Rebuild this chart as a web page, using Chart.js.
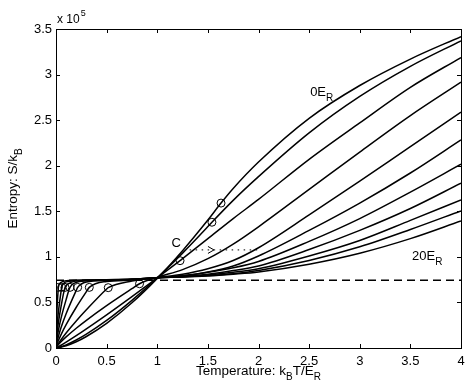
<!DOCTYPE html>
<html>
<head>
<meta charset="utf-8">
<title>Entropy vs temperature</title>
<script src="https://cdn.jsdelivr.net/npm/chart.js@4.4.1/dist/chart.umd.min.js"></script>
<style>
  html, body { margin: 0; padding: 0; background: #fff; }
  #wrap { width: 471px; height: 392px; }
</style>
</head>
<body>
<div id="wrap"><canvas id="entropyChart" width="471" height="392"></canvas></div>
<script>
// Temperature grid (k_B T / E_R) shared by all curves
const temps = [0, 0.01, 0.02, 0.05, 0.1, 0.2, 0.3, 0.5, 0.75, 1.0, 1.25, 1.5, 1.75, 2.0, 2.5, 3.0, 3.5, 4.0];

// Entropy S/k_B (x 10^5) for each lattice depth
const sE0  = [0, 0.001, 0.002, 0.009, 0.024, 0.068, 0.126, 0.27, 0.496, 0.764, 1.068, 1.404, 1.75, 2.04, 2.52, 2.88, 3.17, 3.417];
const sE2  = [0, 0.002, 0.004, 0.014, 0.034, 0.088, 0.152, 0.302, 0.523, 0.77, 1.041, 1.332, 1.62, 1.88, 2.36, 2.76, 3.09, 3.37];
const sE4  = [0, 0.005, 0.011, 0.030, 0.064, 0.135, 0.21, 0.364, 0.564, 0.77, 0.98, 1.2, 1.42, 1.63, 2.07, 2.47, 2.86, 3.187];
const sE6  = [0, 0.018, 0.032, 0.069, 0.122, 0.217, 0.304, 0.465, 0.651, 0.775, 0.86, 0.98, 1.14, 1.33, 1.74, 2.15, 2.55, 2.917];
const sE8  = [0, 0.023, 0.042, 0.091, 0.165, 0.297, 0.419, 0.647, 0.735, 0.772, 0.81, 0.87, 0.96, 1.10, 1.46, 1.83, 2.21, 2.587];
const sE10 = [0, 0.041, 0.071, 0.147, 0.256, 0.447, 0.618, 0.73, 0.745, 0.772, 0.795, 0.835, 0.90, 1.01, 1.29, 1.59, 1.92, 2.283];
const sE12 = [0, 0.067, 0.112, 0.224, 0.376, 0.632, 0.725, 0.742, 0.75, 0.772, 0.79, 0.83, 0.88, 0.95, 1.17, 1.42, 1.71, 2.016];
const sE14 = [0, 0.106, 0.172, 0.327, 0.531, 0.72, 0.738, 0.745, 0.752, 0.772, 0.785, 0.81, 0.85, 0.90, 1.08, 1.29, 1.53, 1.808];
const sE16 = [0, 0.161, 0.252, 0.457, 0.685, 0.735, 0.742, 0.746, 0.754, 0.772, 0.782, 0.80, 0.83, 0.87, 1.01, 1.18, 1.40, 1.625];
const sE18 = [0, 0.237, 0.358, 0.621, 0.725, 0.74, 0.744, 0.748, 0.755, 0.772, 0.78, 0.795, 0.815, 0.85, 0.96, 1.11, 1.30, 1.504];
const sE20 = [0, 0.42, 0.616, 0.72, 0.738, 0.743, 0.745, 0.748, 0.756, 0.772, 0.778, 0.79, 0.81, 0.835, 0.92, 1.04, 1.20, 1.394];

const depths = [0, 2, 4, 6, 8, 10, 12, 14, 16, 18, 20];
const curves = [sE0, sE2, sE4, sE6, sE8, sE10, sE12, sE14, sE16, sE18, sE20];

// Critical points (circles), one per depth
const tcTemps   = [1.63, 1.54, 1.225, 0.825, 0.516, 0.329, 0.214, 0.138, 0.089, 0.056, 0.023];
const tcEntropy = [1.59, 1.38, 0.958, 0.705, 0.662, 0.665, 0.665, 0.665, 0.665, 0.665, 0.665];

// Dashed plateau and dotted arrow
const plateauT = [0, 4];
const plateauS = [0.743, 0.743];
const arrowT = [1.32, 2.03];
const arrowS = [1.076, 1.076];
const arrowTipT = 1.56;

// Axis ticks
const xTicks = [0, 0.5, 1, 1.5, 2, 2.5, 3, 3.5, 4];
const yTicks = [0, 0.5, 1, 1.5, 2, 2.5, 3, 3.5];

const FONT = '"Liberation Sans", Arial, Helvetica, sans-serif';

// Build curve datasets: grid points plus the critical point, sorted by T
const curveSets = curves.map((s, i) => {
    const pts = temps.map((t, j) => ({ x: t, y: s[j] }));
    if (!temps.includes(tcTemps[i])) pts.push({ x: tcTemps[i], y: tcEntropy[i] });
    pts.sort((a, b) => a.x - b.x);
    return {
        label: depths[i] + 'E_R',
        data: pts,
        borderColor: '#000',
        borderWidth: 1.5,
        pointRadius: 0,
        fill: false,
        cubicInterpolationMode: 'monotone'
    };
});

const plateauSet = {
    label: 'plateau',
    data: plateauT.map((t, i) => ({ x: t, y: plateauS[i] })),
    borderColor: '#000',
    borderWidth: 1.5,
    borderDash: [8, 5],
    pointRadius: 0
};

const arrowSet = {
    label: 'arrow',
    data: arrowT.map((t, i) => ({ x: t, y: arrowS[i] })),
    borderColor: '#333',
    borderWidth: 1.2,
    borderDash: [1.5, 4.5],
    pointRadius: 0
};

const circleSet = {
    type: 'scatter',
    label: 'Tc',
    data: tcTemps.map((t, i) => ({ x: t, y: tcEntropy[i] })),
    showLine: false,
    pointStyle: 'circle',
    pointRadius: 4,
    pointBorderWidth: 1,
    pointBorderColor: '#000',
    pointBackgroundColor: 'rgba(0,0,0,0)'
};

// Text with a subscript part, e.g. E_R
function drawSub(ctx, parts, x, y, size, align) {
    // parts: [[text, isSub], ...]
    const subSize = Math.round(size * 0.75);
    let w = 0;
    parts.forEach(([t, sub]) => {
        ctx.font = (sub ? subSize : size) + 'px ' + FONT;
        w += ctx.measureText(t).width;
    });
    let cx = align === 'center' ? x - w / 2 : x;
    parts.forEach(([t, sub]) => {
        ctx.font = (sub ? subSize : size) + 'px ' + FONT;
        ctx.textAlign = 'left';
        ctx.fillText(t, cx, sub ? y + size * 0.4 : y);
        cx += ctx.measureText(t).width;
    });
}

const matlabAxes = {
    id: 'matlabAxes',
    afterDatasetsDraw(chart) {
        const { ctx, chartArea: a, scales: { x, y } } = chart;
        ctx.save();
        ctx.fillStyle = '#000';
        ctx.strokeStyle = '#000';

        // arrow head on the dotted line
        const tipX = x.getPixelForValue(arrowTipT);
        const tipY = y.getPixelForValue(arrowS[0]);
        ctx.lineWidth = 1;
        ctx.beginPath();
        ctx.moveTo(tipX - 6, tipY - 3.5);
        ctx.lineTo(tipX, tipY);
        ctx.lineTo(tipX - 6, tipY + 3.5);
        ctx.stroke();

        // box
        ctx.lineWidth = 1;
        ctx.strokeRect(a.left + 0.5, a.top + 0.5, a.right - a.left, a.bottom - a.top);

        // inward ticks on all four sides
        ctx.beginPath();
        xTicks.forEach(v => {
            const px = Math.round(x.getPixelForValue(v)) + 0.5;
            ctx.moveTo(px, a.bottom); ctx.lineTo(px, a.bottom - 4);
            ctx.moveTo(px, a.top); ctx.lineTo(px, a.top + 4);
        });
        yTicks.forEach(v => {
            const py = Math.round(y.getPixelForValue(v)) + 0.5;
            ctx.moveTo(a.left, py); ctx.lineTo(a.left + 4, py);
            ctx.moveTo(a.right, py); ctx.lineTo(a.right - 4, py);
        });
        ctx.stroke();

        // tick labels
        ctx.font = '13px ' + FONT;
        ctx.textAlign = 'center';
        ctx.textBaseline = 'top';
        xTicks.forEach(v => ctx.fillText(String(v), x.getPixelForValue(v), a.bottom + 7));
        ctx.textAlign = 'right';
        ctx.textBaseline = 'middle';
        yTicks.forEach(v => ctx.fillText(String(v), a.left - 4, y.getPixelForValue(v)));

        // exponent
        ctx.textBaseline = 'alphabetic';
        ctx.textAlign = 'left';
        ctx.font = '12px ' + FONT;
        ctx.fillText('x 10', a.left + 1, a.top - 6);
        const w10 = ctx.measureText('x 10').width;
        ctx.font = '9px ' + FONT;
        ctx.fillText('5', a.left + 2 + w10, a.top - 13);

        // axis titles
        drawSub(ctx, [['Temperature: k', false], ['B', true], ['T/E', false], ['R', true]],
            (a.left + a.right) / 2, a.bottom + 27, 13.5, 'center');
        ctx.save();
        ctx.translate(17, (a.top + a.bottom) / 2);
        ctx.rotate(-Math.PI / 2);
        drawSub(ctx, [['Entropy: S/k', false], ['B', true]], 0, 0, 13.5, 'center');
        ctx.restore();

        // curve annotations
        drawSub(ctx, [['0E', false], ['R', true]], x.getPixelForValue(2.51), y.getPixelForValue(2.766), 13, 'left');
        drawSub(ctx, [['20E', false], ['R', true]], x.getPixelForValue(3.516), y.getPixelForValue(0.966), 13, 'left');
        ctx.font = '13px ' + FONT;
        ctx.fillText('C', x.getPixelForValue(1.14), y.getPixelForValue(1.112));

        ctx.restore();
    }
};

new Chart(document.getElementById('entropyChart'), {
    type: 'line',
    data: { datasets: [...curveSets, plateauSet, arrowSet, circleSet] },
    options: {
        responsive: false,
        animation: false,
        devicePixelRatio: 1,
        layout: { padding: { left: 56, top: 29, right: 10, bottom: 44 } },
        plugins: { legend: { display: false }, tooltip: { enabled: false } },
        scales: {
            x: { type: 'linear', min: 0, max: 4, display: false },
            y: { type: 'linear', min: 0, max: 3.5, display: false }
        }
    },
    plugins: [matlabAxes]
});
</script>
</body>
</html>
